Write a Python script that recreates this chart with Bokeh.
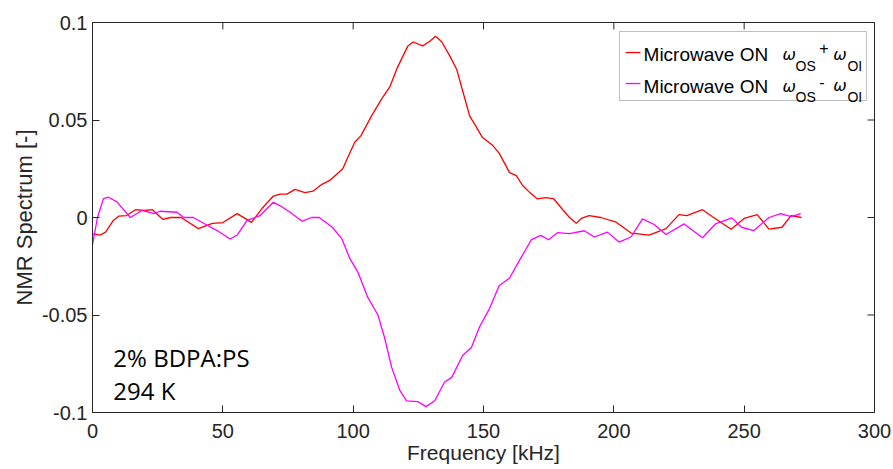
from bokeh.plotting import figure
from bokeh.models import Range1d, FixedTicker, Label, BoxAnnotation
from bokeh.embed import file_html
from bokeh.resources import INLINE

# ---------------- data ----------------
freq_on_plus = [0, 3, 5, 8, 10, 13, 16.5, 20, 23, 27, 30, 34, 40.6, 46, 50, 55.5, 61, 65,
                69.4, 72, 74.6, 77.7, 81.5, 84.6, 88, 91, 96, 98, 100.6, 103, 107, 111,
                114, 117, 121, 123, 126.7, 129.4, 131.6, 134, 137, 139.7, 142, 144.7, 147,
                149.6, 153.5, 156, 160, 162.6, 165, 167.6, 170.7, 174, 177, 180, 183, 185.6,
                187.5, 190.5, 195, 200.9, 206.6, 213.5, 220, 225, 228, 234, 237.7, 241, 245,
                250, 255, 259.5, 264.5, 268, 272]
nmr_on_plus = [-0.0084, -0.009, -0.0075, -0.0015, 0.0007, 0.001, 0.004, 0.0036, 0.004, -0.001,
               0.0, 0.0, -0.0057, -0.003, -0.0026, 0.002, -0.0025, 0.0046,
               0.011, 0.012, 0.012, 0.0144, 0.0128, 0.0135, 0.017, 0.019, 0.025, 0.031, 0.0386,
               0.042, 0.052, 0.061, 0.0668, 0.077, 0.088, 0.090, 0.088, 0.0904, 0.093, 0.090,
               0.083, 0.076, 0.065, 0.052, 0.047, 0.041, 0.037, 0.033, 0.023, 0.0215, 0.0164,
               0.013, 0.0095, 0.0102, 0.0095, 0.0046, 0.0, -0.003, -0.0005, 0.001, 0.0,
               -0.0024, -0.008, -0.009, -0.0057, 0.0015, 0.001, 0.004, 0.0005, -0.0024, -0.006,
               -0.0005, 0.0015, -0.006, -0.005, 0.001, 0.0]

freq_on_minus = [0, 1.9, 4.2, 6.1, 9.4, 14.5, 19, 23.5, 26, 32.4, 35, 38.7, 44, 47.8, 52.8,
                 55.5, 59.3, 64.3, 69.4, 72, 75.8, 80.4, 84, 87, 92, 95.7, 98.7, 101.8, 105.6,
                 109.5, 112, 114.8, 117.9, 120.5, 124.8, 128, 131.3, 135, 137.8, 142, 145.4,
                 148.5, 152.3, 156, 160, 163.8, 168.4, 172, 175, 178.4, 183, 188.7, 192.5,
                 197.5, 202, 206.6, 211, 215.5, 220, 227, 234, 239, 245.3, 249, 253.7, 259.5,
                 264, 268, 271.7]
nmr_on_minus = [-0.014, 0.0, 0.0097, 0.0104, 0.008, 0.0, 0.0036, 0.002, 0.0032, 0.0027, 0.0,
                0.0, -0.004, -0.0067, -0.011, -0.009, -0.0015, 0.001, 0.0078, 0.006, 0.0027,
                -0.0019, 0.0, 0.0, -0.005, -0.011, -0.021, -0.028, -0.041, -0.050, -0.0614,
                -0.077, -0.0887, -0.094, -0.0944, -0.097, -0.094, -0.0845, -0.082, -0.0708,
                -0.0665, -0.056, -0.0467, -0.035, -0.031, -0.022, -0.0113, -0.0092, -0.0114,
                -0.0078, -0.0083, -0.0068, -0.010, -0.0075, -0.0126, -0.010, -0.0007, -0.0036,
                -0.0087, -0.0033, -0.0104, -0.0033, -0.0002, -0.005, -0.0067, 0.0, 0.002,
                0.0005, 0.002]

x_ticks = [0, 50, 100, 150, 200, 250, 300]
x_tick_labels = ["0", "50", "100", "150", "200", "250", "300"]
y_ticks = [-0.1, -0.05, 0, 0.05, 0.1]
y_tick_labels = ["-0.1", "-0.05", "0", "0.05", "0.1"]
series_names = ["Microwave ON", "Microwave ON"]
series_ops = ["+", "-"]
sample_lines = ["2% BDPA:PS", "294 K"]

RED = "#ff0000"
MAGENTA = "#ff00ff"
AXC = "#262626"
FONT = "Liberation Sans"

p = figure(width=893, height=469,
           x_range=Range1d(x_ticks[0], x_ticks[-1]), y_range=Range1d(y_ticks[0], y_ticks[-1]),
           output_backend="svg", toolbar_location=None,
           min_border_left=92, min_border_right=19, min_border_top=22, min_border_bottom=57,
           x_axis_label="Frequency [kHz]", y_axis_label="NMR Spectrum [-]")
p.xgrid.visible = False
p.ygrid.visible = False
p.outline_line_color = AXC
p.outline_line_width = 1
p.background_fill_color = "white"
p.border_fill_color = "white"

p.line(freq_on_plus, nmr_on_plus, line_color=RED, line_width=1.3)
p.line(freq_on_minus, nmr_on_minus, line_color=MAGENTA, line_width=1.3)


def style_axis(ax, ticks, labels):
    ax.ticker = FixedTicker(ticks=ticks)
    ax.major_label_overrides = {t: l for t, l in zip(ticks, labels)}
    ax.major_tick_in = 7
    ax.major_tick_out = 0
    ax.minor_tick_line_color = None
    ax.axis_line_color = AXC
    ax.major_tick_line_color = AXC
    ax.major_label_text_color = AXC
    ax.major_label_text_font = FONT
    ax.major_label_text_font_size = "20px"
    ax.axis_label_text_font = FONT
    ax.axis_label_text_color = AXC
    ax.axis_label_text_font_style = "normal"


xa = p.xaxis[0]
ya = p.yaxis[0]
style_axis(xa, x_ticks, x_tick_labels)
style_axis(ya, y_ticks, y_tick_labels)
xa.major_label_standoff = 11
xa.axis_label_standoff = 0
xa.axis_label_text_font_size = "21px"
ya.major_label_standoff = 5
ya.axis_label_standoff = 2
ya.axis_label_text_font_size = "22px"

# inward ticks on the top and right edges of the box (MATLAB "box on")
p.ray(x=x_ticks, y=[y_ticks[-1]] * len(x_ticks), length=7, length_units="screen",
      angle=-90, angle_units="deg", line_color=AXC, line_width=1)
p.ray(x=[x_ticks[-1]] * len(y_ticks), y=y_ticks, length=7, length_units="screen",
      angle=180, angle_units="deg", line_color=AXC, line_width=1)

# ---------------- legend (drawn by hand, for the subscripted omegas) ----------------
p.add_layout(BoxAnnotation(left=202.2, right=296.9, top=0.0954, bottom=0.0600,
                           fill_color="white", fill_alpha=1.0,
                           line_color=AXC, line_width=1, level="annotation"))
legend_rows = [  # swatch y, text baseline y, subscript baseline y, operator y, colour
    (0.0846, 0.0834, 0.0777, 0.0867, RED),
    (0.0687, 0.0673, 0.0617, 0.0697, MAGENTA),
]
for (sy, ty, suby, opy, col), name, op in zip(legend_rows, series_names, series_ops):
    p.segment(x0=[204.5], y0=[sy], x1=[210.2], y1=[sy], line_color=col, line_width=1.3,
              level="overlay")
    p.add_layout(Label(x=211.4, y=ty, text=name, text_font=FONT, text_font_size="19px",
                       text_color="black", text_baseline="alphabetic"))
    p.add_layout(Label(x=264.7, y=ty, text="\u03c9", text_font="DejaVu Sans",
                       text_font_style="italic", text_font_size="16px",
                       text_color="black", text_baseline="alphabetic"))
    p.add_layout(Label(x=269.7, y=suby, text="OS", text_font=FONT, text_font_size="14px",
                       text_color="black", text_baseline="alphabetic"))
    p.add_layout(Label(x=278.8, y=opy, text=op, text_font=FONT, text_font_size="16px",
                       text_color="black", text_baseline="middle"))
    p.add_layout(Label(x=284.2, y=ty + 0.0004, text="\u03c9", text_font="DejaVu Sans",
                       text_font_style="italic", text_font_size="16px",
                       text_color="black", text_baseline="alphabetic"))
    p.add_layout(Label(x=289.6, y=suby, text="OI", text_font=FONT, text_font_size="14px",
                       text_color="black", text_baseline="alphabetic"))

# ---------------- sample annotation ----------------
for txt, yy in zip(sample_lines, [-0.0718, -0.0887]):
    p.add_layout(Label(x=8.0, y=yy, text=txt, text_font="Open Sans", text_font_size="24px",
                       text_color="black", text_baseline="alphabetic"))

open("out.html", "w").write(file_html(p, INLINE))
